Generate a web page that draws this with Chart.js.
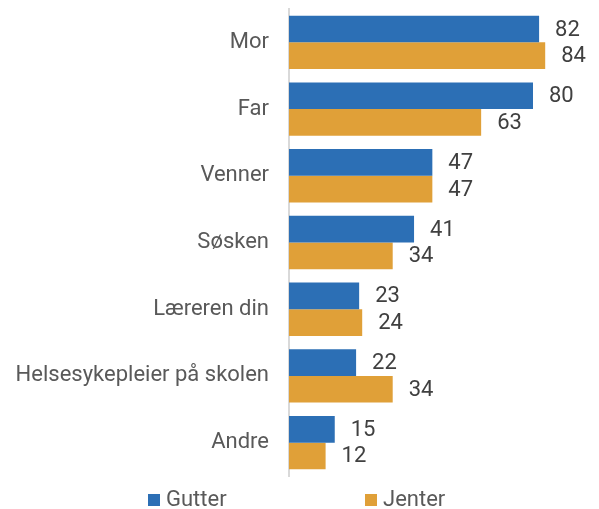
<!DOCTYPE html>
<html>
<head>
<meta charset="utf-8">
<script src="https://cdn.jsdelivr.net/npm/chart.js@4.4.1/dist/chart.umd.min.js"></script>
<style>
  html, body { margin: 0; padding: 0; background: #fff; overflow: hidden; }
  #wrap { position: relative; width: 599px; height: 509px; overflow: hidden; }
  #legend { position: absolute; top: 488px; left: 0; width: 599px; height: 21px;
            font-family: Roboto, sans-serif; font-size: 22px; color: #595959; }
  #legend span.item { position: absolute; top: 0; white-space: nowrap; line-height: 22px; }
  #legend span.box { display: inline-block; width: 12px; height: 12px; margin-right: 6px; vertical-align: baseline; }
</style>
</head>
<body>
<div id="wrap">
  <canvas id="barChart" width="599" height="509"></canvas>
  <div id="legend"></div>
</div>
<script>
// kategorier og verdier (prosent)
var kategorier = ["Mor", "Far", "Venner", "Søsken", "Læreren din", "Helsesykepleier på skolen", "Andre"];
var gutter = [82, 80, 47, 41, 23, 22, 15];
var jenter = [84, 63, 47, 34, 24, 34, 12];
var serieNavn = ["Gutter", "Jenter"];
var farger = ["#2c6fb5", "#e0a038"];

var fontNavn = "Roboto, sans-serif";

// tallene til høyre for hver stolpe
var verdiEtiketter = {
  id: 'verdiEtiketter',
  afterDatasetsDraw: function(chart){
    var ctx = chart.ctx;
    ctx.save();
    ctx.font = "22px " + fontNavn;
    ctx.fillStyle = "#404040";
    ctx.textAlign = "left";
    ctx.textBaseline = "middle";
    chart.data.datasets.forEach(function(ds, i){
      chart.getDatasetMeta(i).data.forEach(function(bar, j){
        ctx.fillText(ds.data[j], bar.x + 16, bar.y + 1);
      });
    });
    ctx.restore();
  }
};

var ctx = document.getElementById("barChart").getContext('2d');
var myBarChart = new Chart(ctx, {
  type: 'bar',
  data: {
    labels: kategorier,
    datasets: [
      { label: serieNavn[0], data: gutter, backgroundColor: farger[0] },
      { label: serieNavn[1], data: jenter, backgroundColor: farger[1] }
    ]
  },
  options: {
    indexAxis: 'y',
    responsive: false,
    animation: false,
    categoryPercentage: 0.8,
    barPercentage: 1.0,
    layout: { padding: { top: 9, right: 5, bottom: 33, left: 0 } },
    plugins: {
      legend: { display: false },
      tooltip: { enabled: false }
    },
    scales: {
      x: { display: false, min: 0, max: 100 },
      y: {
        grid: { display: false, drawTicks: false },
        border: { display: true, color: "#d9d9d9", width: 2 },
        ticks: { color: "#595959", padding: 20, font: { family: fontNavn, size: 22 } },
        afterFit: function(scale){
          scale.width = 289;
          scale.paddingTop = 0;
          scale.paddingBottom = 0;
        }
      }
    }
  },
  plugins: [verdiEtiketter]
});

// forklaring under diagrammet
var posisjoner = [148, 365];
var legend = document.getElementById("legend");
serieNavn.forEach(function(navn, i){
  var item = document.createElement("span");
  item.className = "item";
  item.style.left = posisjoner[i] + "px";
  item.innerHTML = '<span class="box" style="background:' + farger[i] + '"></span>' + navn;
  legend.appendChild(item);
});
</script>
</body>
</html>
